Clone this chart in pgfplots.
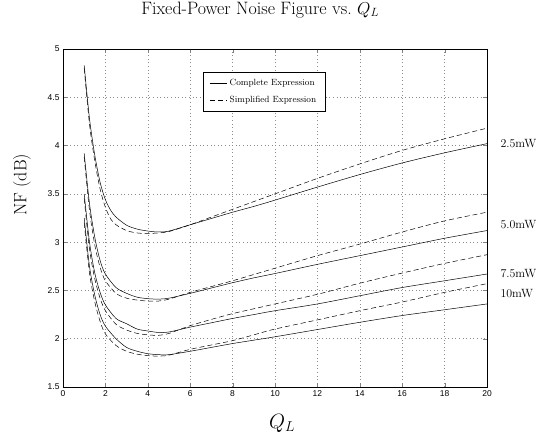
\documentclass[border=0pt]{standalone}
\usepackage{fontspec}
\usepackage{pgfplots}
\pgfplotsset{compat=1.18}
\newfontfamily\hv{Liberation Sans}
\begin{document}
\begin{tikzpicture}
\useasboundingbox (-63bp,-52bp) rectangle (475bp,387bp);
\begin{axis}[
  at={(0,0)}, anchor=south west,
  width=424bp, height=338bp, scale only axis,
  xmin=0, xmax=20, ymin=1.5, ymax=5,
  xtick={0,2,...,20}, ytick={1.5,2,2.5,3,3.5,4,4.5,5},
  tick align=inside, tick pos=both,
  major tick length=4bp,
  grid=major,
  major grid style={black!45, line width=0.5pt, dash pattern=on 0.6bp off 3bp},
  axis line style={black, line width=0.5pt},
  /pgf/number format/assume math mode=true,
  ticklabel style={font=\hv\fontsize{8.5}{9}\selectfont},
  clip=false,
  title={Fixed-Power Noise Figure vs.\ $Q_L$},
  title style={at={(0.465,1)}, anchor=base, yshift=29bp, inner sep=0pt, font=\fontsize{18}{20}\selectfont},
  legend style={at={(0.33,0.932)}, anchor=north west, font=\fontsize{9}{11}\selectfont,
    draw=black, line width=0.5pt, inner xsep=7bp, inner ysep=5bp, row sep=5bp},
  legend cell align=left,
  legend image code/.code={\draw[#1] (0,0) -- (0.6cm,0);},
]
% 2.5 mW complete
\addplot[black, line width=0.5pt, smooth] coordinates {
(1.0,4.83) (1.25,4.28) (1.5,3.90) (1.75,3.62) (2.0,3.44) (2.25,3.33) (2.5,3.26) (3.0,3.175) (3.5,3.135) (4.0,3.115) (4.5,3.105) (5.0,3.115) (6.0,3.18) (7.0,3.245) (8.0,3.31) (9.0,3.37) (10.0,3.435) (12.0,3.57) (14.0,3.70) (16.0,3.82) (18.0,3.925) (20.0,4.02)};
\addlegendentry{Complete Expression}
% 2.5 mW simplified
\addplot[black, line width=0.5pt, dash pattern=on 5bp off 3bp, smooth] coordinates {
(1.0,4.80) (1.25,4.22) (1.5,3.84) (1.75,3.55) (2.0,3.36) (2.25,3.24) (2.5,3.18) (3.0,3.12) (3.5,3.095) (4.0,3.09) (4.5,3.095) (5.0,3.11) (6.0,3.18) (7.0,3.26) (8.0,3.34) (9.0,3.42) (10.0,3.50) (12.0,3.66) (14.0,3.81) (16.0,3.95) (18.0,4.07) (20.0,4.18)};
\addlegendentry{Simplified Expression}
% 5.0 mW complete
\addplot[black, line width=0.5pt, smooth, forget plot] coordinates {
(1.0,3.92) (1.25,3.40) (1.5,3.05) (1.75,2.81) (2.0,2.67) (2.5,2.53) (3.0,2.47) (3.5,2.43) (4.0,2.415) (4.5,2.41) (5.0,2.42) (6.0,2.47) (7.0,2.525) (8.0,2.58) (9.0,2.63) (10.0,2.675) (12.0,2.77) (14.0,2.86) (16.0,2.95) (18.0,3.04) (20.0,3.12)};
% 5.0 mW simplified
\addplot[black, line width=0.5pt, dash pattern=on 5bp off 3bp, smooth, forget plot] coordinates {
(1.0,3.88) (1.25,3.33) (1.5,2.97) (1.75,2.74) (2.0,2.60) (2.5,2.47) (3.0,2.42) (3.5,2.40) (4.0,2.39) (4.5,2.39) (5.0,2.41) (6.0,2.48) (7.0,2.54) (8.0,2.60) (9.0,2.665) (10.0,2.73) (12.0,2.86) (14.0,2.98) (16.0,3.105) (18.0,3.22) (20.0,3.31)};
% 7.5 mW complete
\addplot[black, line width=0.5pt, smooth, forget plot] coordinates {
(1.0,3.50) (1.25,3.00) (1.5,2.68) (1.75,2.48) (2.0,2.35) (2.5,2.21) (3.0,2.155) (3.5,2.10) (4.0,2.08) (4.5,2.065) (5.0,2.07) (6.0,2.12) (7.0,2.165) (8.0,2.21) (9.0,2.25) (10.0,2.29) (12.0,2.36) (14.0,2.445) (16.0,2.53) (18.0,2.60) (20.0,2.67)};
% 7.5 mW simplified
\addplot[black, line width=0.5pt, dash pattern=on 5bp off 3bp, smooth, forget plot] coordinates {
(1.0,3.45) (1.25,2.93) (1.5,2.62) (1.75,2.42) (2.0,2.29) (2.5,2.15) (3.0,2.09) (3.5,2.055) (4.0,2.04) (4.5,2.035) (5.0,2.055) (6.0,2.135) (7.0,2.20) (8.0,2.26) (9.0,2.31) (10.0,2.36) (12.0,2.46) (14.0,2.575) (16.0,2.68) (18.0,2.78) (20.0,2.87)};
% 10 mW complete
\addplot[black, line width=0.5pt, smooth, forget plot] coordinates {
(1.0,3.25) (1.25,2.75) (1.5,2.45) (1.75,2.25) (2.0,2.13) (2.5,2.00) (3.0,1.91) (3.5,1.87) (4.0,1.845) (4.5,1.835) (5.0,1.835) (6.0,1.87) (7.0,1.91) (8.0,1.95) (9.0,1.985) (10.0,2.02) (12.0,2.095) (14.0,2.17) (16.0,2.24) (18.0,2.30) (20.0,2.36)};
% 10 mW simplified
\addplot[black, line width=0.5pt, dash pattern=on 5bp off 3bp, smooth, forget plot] coordinates {
(1.0,3.20) (1.25,2.68) (1.5,2.38) (1.75,2.18) (2.0,2.05) (2.5,1.93) (3.0,1.87) (3.5,1.84) (4.0,1.825) (4.5,1.82) (5.0,1.83) (6.0,1.89) (7.0,1.935) (8.0,1.98) (9.0,2.04) (10.0,2.10) (12.0,2.195) (14.0,2.29) (16.0,2.38) (18.0,2.48) (20.0,2.57)};
% labels
\node[anchor=west, font=\fontsize{12}{14}\selectfont, xshift=10bp] at (axis cs:20,4.02) {2.5mW};
\node[anchor=west, font=\fontsize{12}{14}\selectfont, xshift=10bp] at (axis cs:20,3.185) {5.0mW};
\node[anchor=west, font=\fontsize{12}{14}\selectfont, xshift=10bp] at (axis cs:20,2.68) {7.5mW};
\node[anchor=west, font=\fontsize{12}{14}\selectfont, xshift=10bp] at (axis cs:20,2.47) {10mW};
\node[rotate=90, anchor=center, font=\fontsize{18}{20}\selectfont] at ([xshift=-41bp]rel axis cs:0,0.598) {NF (dB)};
\node[anchor=base, font=\fontsize{20}{22}\selectfont] at ([yshift=-41bp]rel axis cs:0.517,0) {$Q_L$};
\end{axis}
\end{tikzpicture}
\end{document}
